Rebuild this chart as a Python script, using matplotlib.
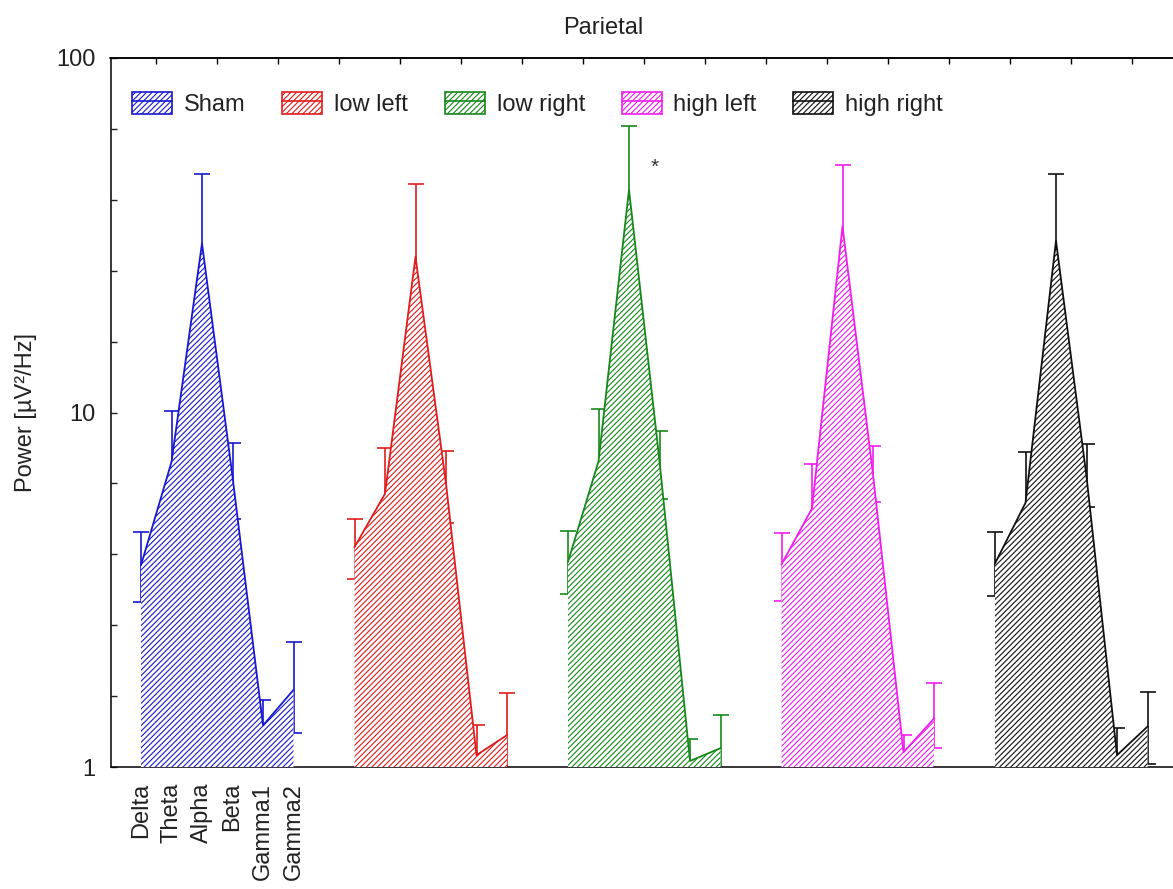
import matplotlib
matplotlib.use('Agg')
import matplotlib.pyplot as plt
import numpy as np
from matplotlib.patches import Patch
from matplotlib.lines import Line2D
from matplotlib.ticker import FixedLocator, NullFormatter

plt.rcParams['font.family'] = ['Liberation Sans', 'DejaVu Sans']
plt.rcParams['hatch.linewidth'] = 0.8
plt.rcParams['text.color'] = '#222222'

# ---------------- data ----------------
bands = ['Delta', 'Theta', 'Alpha', 'Beta', 'Gamma1', 'Gamma2']
groups = ['Sham', 'low left', 'low right', 'high left', 'high right']

sham_mean = [3.71, 7.25, 30.0, 6.6, 1.31, 1.65]
sham_upper = [4.60, 10.1, 47.1, 8.2, 1.55, 2.25]
sham_lower = [2.92, 5.2, 19.0, 5.0, 1.10, 1.25]

low_left_mean = [4.17, 5.90, 27.5, 6.3, 1.08, 1.23]
low_left_upper = [5.02, 7.94, 44.2, 7.80, 1.315, 1.62]
low_left_lower = [3.38, 4.4, 17.1, 4.89, 0.89, 0.93]

low_right_mean = [3.79, 7.28, 42.5, 7.3, 1.04, 1.13]
low_right_upper = [4.63, 10.2, 64.1, 8.85, 1.20, 1.40]
low_right_lower = [3.08, 5.2, 28.2, 5.72, 0.90, 0.91]

high_left_mean = [3.73, 5.36, 33.5, 6.7, 1.10, 1.37]
high_left_upper = [4.57, 7.17, 49.9, 8.06, 1.23, 1.73]
high_left_lower = [2.93, 4.0, 22.5, 5.6, 0.98, 1.13]

high_right_mean = [3.75, 5.56, 30.5, 6.6, 1.08, 1.30]
high_right_upper = [4.59, 7.72, 47.0, 8.13, 1.29, 1.63]
high_right_lower = [3.03, 4.0, 19.8, 5.4, 0.90, 1.02]

means = [sham_mean, low_left_mean, low_right_mean, high_left_mean, high_right_mean]
uppers = [sham_upper, low_left_upper, low_right_upper, high_left_upper, high_right_upper]
lowers = [sham_lower, low_left_lower, low_right_lower, high_left_lower, high_right_lower]

colors = ['#1818d0', '#e01c1c', '#16881a', '#f01cf0', '#111111']

# ---------------- figure ----------------
W, H = 1173, 889
fig = plt.figure(figsize=(W / 100, H / 100), dpi=100)
unit = 30.5
xmin, xmax = -1, 34.5
ax_w = (xmax - xmin) * unit
ax = fig.add_axes([110.5 / W, 1 - 767 / H, ax_w / W, (767 - 58) / H])

hatch = '//////'
nb = len(bands)
for g, (name, c) in enumerate(zip(groups, colors)):
    xs = g * (nb + 1) + np.arange(nb)
    m = np.array(means[g])
    up = np.array(uppers[g])
    lo = np.array(lowers[g])
    ax.errorbar(xs, m, yerr=[m - lo, up - m], fmt='none', ecolor=c,
                elinewidth=1.2, capsize=5.5, capthick=1.2, zorder=2)
    ax.fill_between(xs, 0.5, m, facecolor='white', edgecolor=c, hatch=hatch,
                    linewidth=0, zorder=3)
    ax.plot(xs, m, color=c, lw=1.3, zorder=4)

ax.set_yscale('log')
ax.set_ylim(1, 100)
ax.set_xlim(xmin, xmax)

ax.yaxis.set_major_locator(FixedLocator([1, 10, 100]))
ax.set_yticklabels(['1', '10', '100'])
minor_vals = [10 ** (k / 5) for k in range(1, 10) if k % 5 != 0]
ax.yaxis.set_minor_locator(FixedLocator(minor_vals))
ax.yaxis.set_minor_formatter(NullFormatter())
ax.tick_params(axis='y', which='both', direction='in', length=4, width=1.0,
               labelsize=17, pad=10.8, colors='#222222')

ax.set_xticks(range(nb))
ax.set_xticklabels(bands, rotation=90, fontsize=17, color='#222222')
ax.tick_params(axis='x', which='both', length=0, pad=11.5)

secax = ax.secondary_xaxis('top')
secax.set_xticks(np.arange(0.5, 34, 2))
secax.tick_params(direction='in', length=4, width=1.0, labeltop=False)
secax.spines['top'].set_linewidth(1.1)

for s in ax.spines.values():
    s.set_linewidth(1.1)

ax.set_ylabel('Power [µV²/Hz]', fontsize=17, color='#222222')
ax.yaxis.set_label_coords((37 - 110.5) / ax_w, 0.5)

ax.text(16.85, 49, '*', fontsize=15, color='#333333', ha='center', va='center', zorder=5)

fig.text(603 / W, 1 - 28 / H, 'Parietal', ha='center', va='center', fontsize=17)

handles = [(Patch(facecolor='white', edgecolor=c, hatch=hatch, lw=1.2),
            Line2D([], [], color=c, lw=1.2)) for c in colors]
ax.legend(handles, groups, ncol=5, loc='center left',
          bbox_to_anchor=(132 / W, 1 - 104 / H), bbox_transform=fig.transFigure,
          frameon=False, fontsize=17, handlelength=1.7, handleheight=1.1,
          handletextpad=0.5, columnspacing=1.55, borderpad=0, borderaxespad=0)

fig.savefig('out.png', dpi=100)
